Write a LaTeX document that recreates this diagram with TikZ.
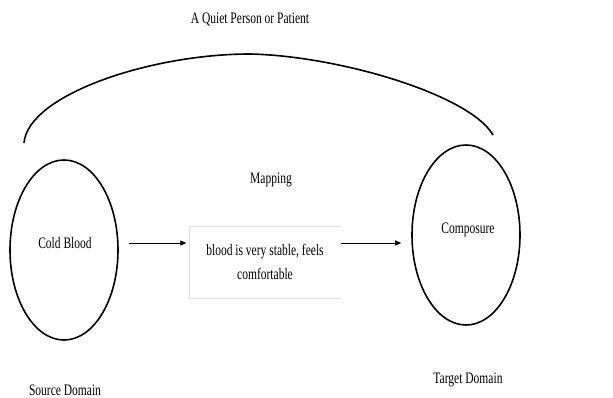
\documentclass[tikz,border=0pt]{standalone}
\usepackage{fontspec}
\setmainfont{Liberation Serif}
\usetikzlibrary{arrows.meta,shapes.geometric}
\newcommand{\narrowtext}[1]{\scalebox{0.72}[1]{#1}}

\begin{document}
\begin{tikzpicture}[x=1pt,y=-1pt,font=\fontsize{16}{24}\selectfont,
  domainshape/.style={ellipse,draw,line width=1.6pt,minimum width=108pt,minimum height=180pt,inner sep=0pt},
  maparrow/.style={-{Triangle[length=6pt,width=5pt]},line width=0.8pt}]
  \useasboundingbox (0,0) rectangle (613,398);
  \node (title) at (250,20) {\narrowtext{A Quiet Person or Patient}};
  \draw[line width=1.6pt] (24,143) .. controls (28,95) and (150,54) .. (250,54)
    .. controls (340,56) and (470,95) .. (493,135);
  \node (mapping) at (271,180) {\narrowtext{Mapping}};
  % the two domains
  \node[domainshape] (source) at (64,250) {};
  \node[domainshape] (target) at (466,235) {};
  \node (cold) at (65,243) {\narrowtext{Cold Blood}};
  \node (composure) at (468,230) {\narrowtext{Composure}};
  \node (srclabel) at (65,390) {\narrowtext{Source Domain}};
  \node (tgtlabel) at (468,380) {\narrowtext{Target Domain}};
  % mapping box, open on the right
  \node[minimum width=151pt,minimum height=71pt,align=center] (mapbox) at (265,262)
    {\narrowtext{blood is very stable, feels}\\\narrowtext{comfortable}};
  \draw[black!12] (mapbox.north east) -- (mapbox.north west) -- (mapbox.south west) -- (mapbox.south east);
  \draw[maparrow] ([xshift=10pt]source.east |- cold) -- ([xshift=-3pt]mapbox.west |- cold);
  \draw[maparrow] (mapbox.east |- cold) -- ([xshift=-10pt]target.west |- cold);
\end{tikzpicture}
\end{document}
